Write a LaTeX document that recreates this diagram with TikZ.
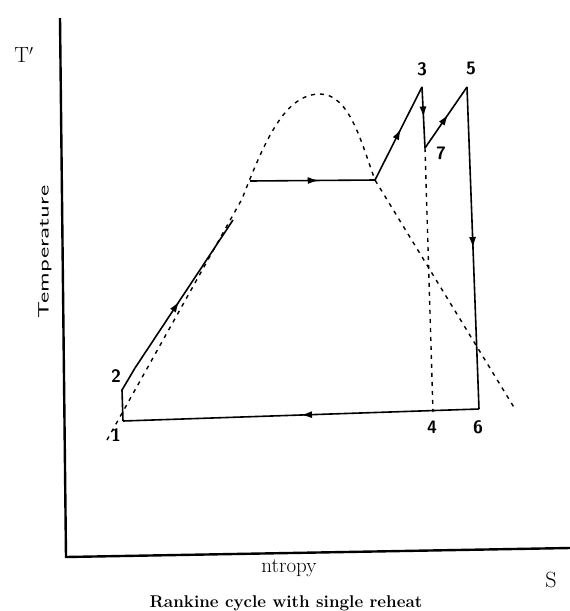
\documentclass[tikz,border=0pt]{standalone}
\usetikzlibrary{arrows.meta,decorations.markings}
\tikzset{
  axisline/.style={line width=2.4pt},
  cycleline/.style={line width=1.6pt},
  domeline/.style={line width=1.4pt,dash pattern=on 4pt off 5pt},
  midarrow/.style={postaction={decorate},
    decoration={markings,mark=at position #1 with {\arrow{Latex[length=11pt,width=7pt]}}}},
  ptlabel/.style={font=\fontsize{18}{18}\sffamily\bfseries},
}
\begin{document}
\begin{tikzpicture}[x=1pt,y=-1pt]
  \useasboundingbox (0,0) rectangle (570,611);
  % axes
  \coordinate (ytop) at (60,18);
  \coordinate (origin) at (66,557);
  \coordinate (xend) at (570,548);
  \draw[axisline] (ytop) -- (origin) -- (xend);
  \node[font=\fontsize{22}{22}\selectfont] (tlab) at (24,55) {T$'$};
  \node[font=\fontsize{15}{15}\sffamily, rotate=90] (ylab) at (45,252) {\scalebox{1.7}[1]{Temperature}};
  \node[font=\fontsize{21}{21}\selectfont] (xlab) at (289,568) {ntropy};
  \node[font=\fontsize{22}{22}\selectfont] (slab) at (551,580) {S};
  \node[font=\fontsize{17}{17}\bfseries] (caption) at (286,603) {Rankine cycle with single reheat};
  % state points
  \coordinate (p1) at (123,421);
  \coordinate (p2) at (122,390);
  \coordinate (p2b) at (135,368);
  \coordinate (ph) at (233,220);
  \coordinate (pf) at (250,181);
  \coordinate (pg) at (375,180);
  \coordinate (p3) at (422,87);
  \coordinate (p7) at (425,148);
  \coordinate (p5) at (467,87);
  \coordinate (p6) at (479,409);
  \coordinate (p4) at (433,412);
  % saturation dome
  \coordinate (dl) at (107,440);
  \coordinate (dr) at (515,409);
  \draw[domeline] (dl) -- (242,199) .. controls (265,140) and (285,94) .. (320,94)
    .. controls (350,94) and (362,145) .. (pg) -- (dr);
  % cycle
  \draw[cycleline] (p1) -- (p2) -- (p2b);
  \draw[cycleline, midarrow=0.45] (p2b) -- (ph);
  \draw[cycleline, midarrow=0.55] (pf) -- (pg);
  \draw[cycleline, midarrow=0.55] (pg) -- (p3);
  \draw[cycleline, midarrow=0.5] (p3) -- (p7);
  \draw[cycleline, midarrow=0.55] (p7) -- (p5);
  \draw[cycleline, midarrow=0.5] (p5) -- (p6);
  \draw[cycleline, midarrow=0.5] (p6) -- (p1);
  \draw[domeline] (p7) -- (p4);
  % labels
  \node[ptlabel] (l1) at (116,435) {1};
  \node[ptlabel] (l2) at (116,376) {2};
  \node[ptlabel] (l3) at (422,69) {3};
  \node[ptlabel] (l4) at (432,427) {4};
  \node[ptlabel] (l5) at (471,68) {5};
  \node[ptlabel] (l6) at (478,427) {6};
  \node[ptlabel] (l7) at (441,153) {7};
\end{tikzpicture}
\end{document}
